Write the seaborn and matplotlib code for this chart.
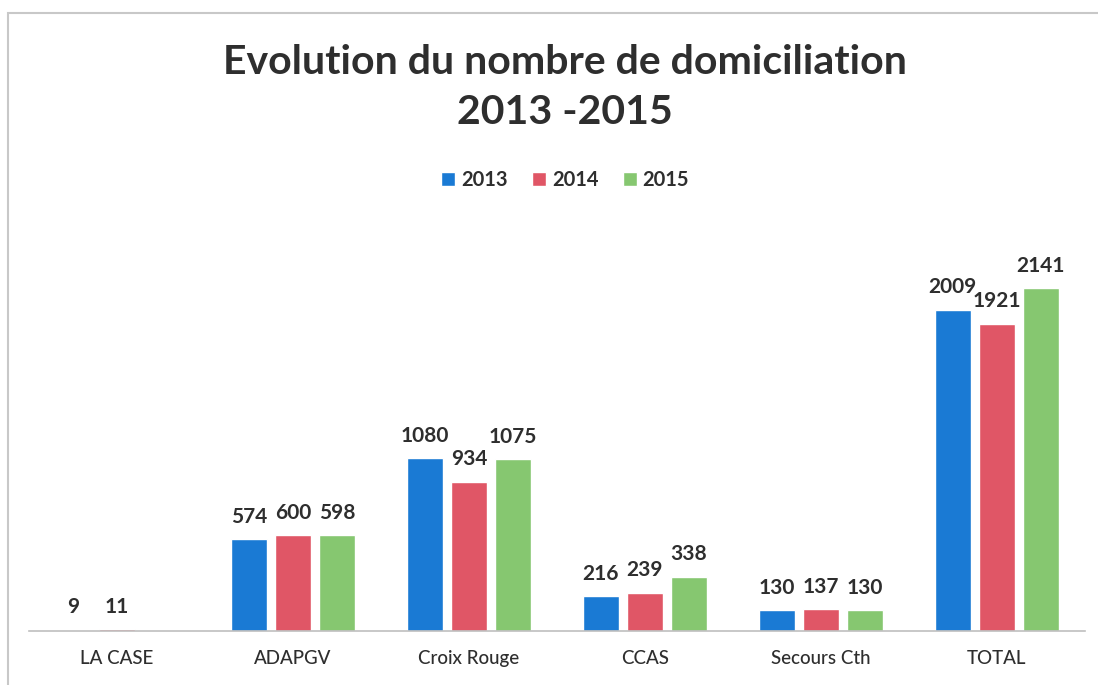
import numpy as np
import pandas as pd
import matplotlib
matplotlib.use("Agg")
import matplotlib.pyplot as plt
import seaborn as sns

categories = ["LA CASE", "ADAPGV", "Croix Rouge", "CCAS", "Secours Cth", "TOTAL"]
years = ["2013", "2014", "2015"]
values_2013 = [9, 574, 1080, 216, 130, 2009]
values_2014 = [11, 600, 934, 239, 137, 1921]
values_2015 = [np.nan, 598, 1075, 338, 130, 2141]

colors = ["#1a7ad4", "#e05666", "#86c770"]
text_color = "#2e2e2e"

df = pd.DataFrame({
    "categorie": categories * 3,
    "annee": [y for y in years for _ in categories],
    "valeur": values_2013 + values_2014 + values_2015,
})

sns.set_theme(style="white")
plt.rcParams["font.family"] = ["Lato", "DejaVu Sans"]

fig = plt.figure(figsize=(10.98, 6.85), dpi=100)
ax = fig.add_axes([0.0264, 0.0788, 0.9616, 0.584])

sns.barplot(data=df, x="categorie", y="valeur", hue="annee", order=categories,
            hue_order=years, palette=colors, width=0.75, gap=0.18,
            saturation=1, ax=ax, legend=True)

# data labels (skip missing bars)
for cont in ax.containers:
    for bar in cont:
        if bar is None:
            continue
        h = bar.get_height()
        if np.isnan(h):
            continue
        ax.annotate(f"{int(round(h))}", (bar.get_x() + bar.get_width() / 2, h),
                    xytext=(0, 9), textcoords="offset points", ha="center",
                    va="bottom", fontsize=15, fontweight="bold", color=text_color)

ax.set_ylim(0, 2500)
ax.set_xlim(-0.5, len(categories) - 0.5)
ax.set_xlabel("")
ax.set_ylabel("")
ax.set_yticks([])
ax.tick_params(axis="x", length=0, pad=14, labelsize=13.5, labelcolor=text_color)
for lbl in ax.get_xticklabels():
    lbl.set_fontweight("medium")
for s in ["top", "left", "right"]:
    ax.spines[s].set_visible(False)
ax.spines["bottom"].set_color("#bfbfbf")
ax.spines["bottom"].set_linewidth(1.2)

leg = ax.legend(loc="center", ncol=3, frameon=False, handlelength=0.7,
                handleheight=0.7, handletextpad=0.3, columnspacing=1.2, fontsize=14.5)
leg.set_bbox_to_anchor((565 / 1098, 1 - 180 / 685), transform=fig.transFigure)
for t in leg.get_texts():
    t.set_fontweight("bold")
    t.set_color(text_color)

fig.text(565 / 1098, 1 - 62 / 685, "Evolution du nombre de domiciliation",
         ha="center", va="center", fontsize=29.5, fontweight="bold", color=text_color)
fig.text(565 / 1098, 1 - 112 / 685, "2013 -2015",
         ha="center", va="center", fontsize=29.5, fontweight="bold", color=text_color)

# chart border
fig.patches.append(plt.Rectangle((8 / 1098, -0.01), 1.2, 1 - 13 / 685 + 0.01,
                                 transform=fig.transFigure, fill=False,
                                 edgecolor="#c8c8c8", linewidth=1.5))

fig.savefig("out.png", dpi=100)
